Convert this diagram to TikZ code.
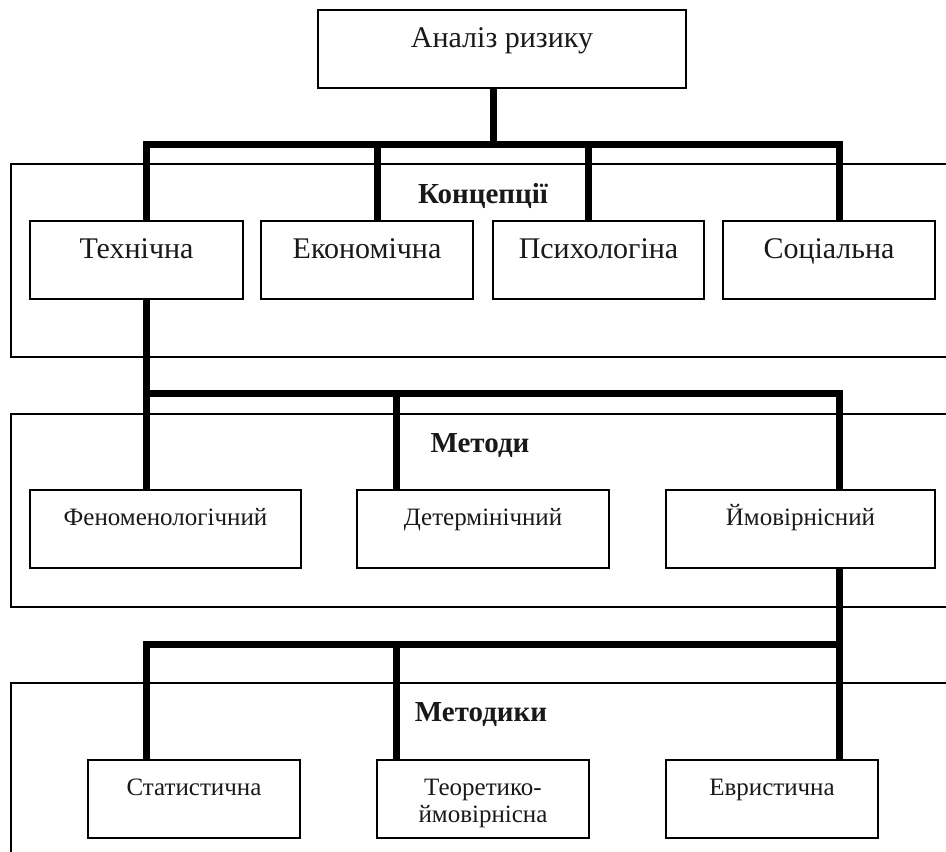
\documentclass[tikz,border=0pt]{standalone}
\usepackage{fontspec}
\setmainfont{Liberation Serif}
\begin{document}
\begin{tikzpicture}[x=1pt,y=-1pt,
  frame/.style={draw=black, line width=1.5pt, inner sep=0pt, anchor=north west},
  box/.style={draw=black, line width=2pt, inner xsep=0pt, inner ysep=0pt, anchor=north west, align=center, text=black!90},
  bigbox/.style={box, text height=37pt, text depth=41pt, font=\fontsize{30}{33}\selectfont},
  midbox/.style={box, text height=35pt, text depth=43pt, font=\fontsize{25}{27.5}\selectfont},
  lowbox/.style={box, text height=35pt, text depth=43pt, font=\fontsize{25}{27}\selectfont},
  hdr/.style={anchor=base, inner sep=0pt, font=\bfseries\fontsize{29}{32}\selectfont, text=black!90},
  bus/.style={draw=black, line width=7pt, line join=miter}
]
\useasboundingbox (0,0) rectangle (946,852);
\fill[white] (0,0) rectangle (946,852);
\clip (0,0) rectangle (946,852);

% frames
\node[frame, minimum width=950pt, minimum height=193pt] (fconc) at (10,163) {};
\node[frame, minimum width=950pt, minimum height=193pt] (fmeth) at (10,413) {};
\node[frame, minimum width=950pt, minimum height=230pt] (fmtd) at (10,682) {};

% headers
\node[hdr] (hconc) at (483,203) {Концепції};
\node[hdr] (hmeth) at (480,452) {Методи};
\node[hdr] (hmtd) at (481,721) {Методики};

% top
\node[bigbox, minimum width=368pt] (top) at (317,9) {Аналіз ризику};

% concepts
\node[bigbox, minimum width=213pt] (tech) at (29,220) {Технічна};
\node[bigbox, minimum width=212pt] (eco) at (260,220) {Економічна};
\node[bigbox, minimum width=211pt] (psy) at (492,220) {Психологіна};
\node[bigbox, minimum width=212pt] (soc) at (722,220) {Соціальна};

% methods
\node[midbox, minimum width=271pt] (phen) at (29,489) {Феноменологічний};
\node[midbox, minimum width=252pt] (det) at (356,489) {Детермінічний};
\node[midbox, minimum width=269pt] (imov) at (665,489) {Ймовірнісний};

% methodiki
\node[lowbox, minimum width=212pt] (stat) at (87,759) {Статистична};
\node[lowbox, minimum width=212pt] (teor) at (376,759) {\begin{tabular}[t]{@{}c@{}}Теоретико-\\ймовірнісна\end{tabular}};
\node[lowbox, minimum width=212pt] (evr) at (665,759) {Евристична};

% bus levels
\coordinate (b1) at (0,144);
\coordinate (b2) at (0,393);
\coordinate (b3) at (0,644);

% drop points
\coordinate (dt) at ([xshift=-9pt]top.south);
\coordinate (d1) at ([xshift=9.5pt]tech.north);
\coordinate (d2) at ([xshift=10pt]eco.north);
\coordinate (d3) at ([xshift=-10.5pt]psy.north);
\coordinate (d4) at ([xshift=10pt]soc.north);
\coordinate (ts) at ([xshift=9.5pt]tech.south);
\coordinate (e1) at ([xshift=-19.5pt]phen.north);
\coordinate (e2) at ([xshift=-87pt]det.north);
\coordinate (e3) at ([xshift=38.5pt]imov.north);
\coordinate (is) at ([xshift=38.5pt]imov.south);
\coordinate (f1) at ([xshift=-48pt]stat.north);
\coordinate (f2) at ([xshift=-87pt]teor.north);
\coordinate (f3) at ([xshift=67pt]evr.north);

% level 1
\draw[bus] (dt) -- (dt |- b1);
\draw[bus] (d1) |- (d4 |- b1) -- (d4);
\draw[bus] (d2) -- (d2 |- b1);
\draw[bus] (d3) -- (d3 |- b1);

% level 2
\draw[bus] (ts) -- (e1);
\draw[bus] (ts |- b2) -| (e3);
\draw[bus] (e2) -- (e2 |- b2);

% level 3
\draw[bus] (is) -- (f3);
\draw[bus] (is |- b3) -| (f1);
\draw[bus] (f2) -- (f2 |- b3);
\end{tikzpicture}
\end{document}
